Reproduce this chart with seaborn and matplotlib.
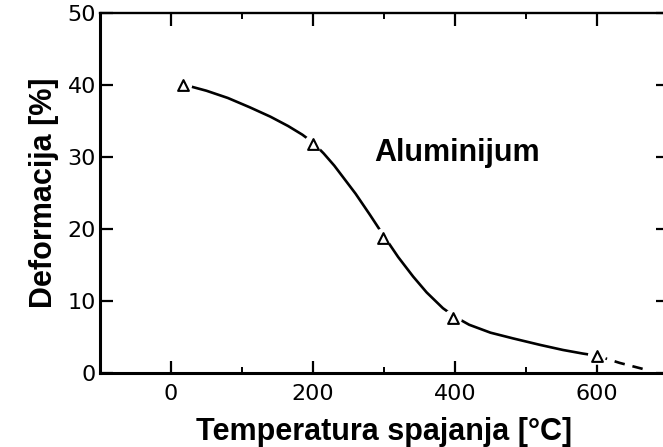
import pandas as pd
import seaborn as sns
import matplotlib.pyplot as plt
from matplotlib.ticker import MultipleLocator

# curve (solid part)
curve_x = [20, 50, 80, 111, 140, 165, 185, 200, 215, 230, 260, 280, 298, 320, 341, 360,
           383, 400, 420, 450, 482, 520, 552, 580, 600]
curve_y = [40, 39.2, 38.2, 36.9, 35.6, 34.3, 33.1, 32.0, 30.5, 28.8, 24.9, 22.0, 19.3, 16.1, 13.4, 11.2,
           9.0, 7.8, 6.7, 5.6, 4.8, 3.9, 3.2, 2.7, 2.4]
# dashed extrapolation
dash_x = [600, 632, 675]
dash_y = [2.4, 1.4, 0.3]
# measured points
pts_x = [17, 200, 298, 397, 600]
pts_y = [40, 31.8, 18.8, 7.6, 2.4]

xticks = [0, 200, 400, 600]
yticks = [0, 10, 20, 30, 40, 50]

sns.set_style("ticks")
plt.rcParams["font.family"] = ["DejaVu Sans"]
plt.rcParams["text.color"] = "black"
plt.rcParams["axes.labelcolor"] = "black"

fig = plt.figure(figsize=(6.63, 4.47), dpi=100)
ax = fig.add_axes([100 / 663, 74 / 447, 568 / 663, 360 / 447])

curve = pd.DataFrame({"x": curve_x, "y": curve_y})
dash = pd.DataFrame({"x": dash_x, "y": dash_y})
pts = pd.DataFrame({"x": pts_x, "y": pts_y})

sns.lineplot(data=curve, x="x", y="y", color="black", linewidth=1.9, sort=False, ax=ax)
sns.lineplot(data=dash, x="x", y="y", color="black", linewidth=1.9, sort=False, ax=ax)
ax.lines[-1].set_dashes([4, 3])
# white halo so the line breaks at the markers
sns.scatterplot(data=pts, x="x", y="y", marker="o", s=170, color="white", edgecolor="none", ax=ax, zorder=3)
sns.scatterplot(data=pts, x="x", y="y", marker="^", s=60, facecolor="white", edgecolor="black",
                linewidth=1.5, ax=ax, zorder=4)

ax.set_xlim(-100, 700)
ax.set_ylim(0, 50)
ax.set_xticks(xticks)
ax.set_yticks(yticks)
ax.xaxis.set_minor_locator(MultipleLocator(100))
ax.tick_params(which="both", direction="in", top=True, right=True, colors="black")
ax.tick_params(which="major", length=9, width=1.6)
ax.tick_params(which="minor", length=4, width=1.4)
ax.tick_params(axis="x", labelsize=16, pad=8)
ax.tick_params(axis="y", labelsize=16, pad=3)

for side in ["left", "bottom"]:
    ax.spines[side].set_linewidth(2.2)
ax.spines["top"].set_linewidth(1.7)
ax.spines["right"].set_linewidth(1.7)
for side in ax.spines:
    ax.spines[side].set_color("black")
    ax.spines[side].set_visible(True)

lbl = dict(family="Liberation Sans", fontweight="bold", fontsize=22, color="black")
ax.set_xlabel("Temperatura spajanja [°C]", labelpad=9, **lbl)
ax.set_ylabel("Deformacija [%]", labelpad=6, **lbl)
ax.text(403, 30.6, "Aluminijum", ha="center", va="center", **lbl)

plt.savefig("out.png", dpi=100)
